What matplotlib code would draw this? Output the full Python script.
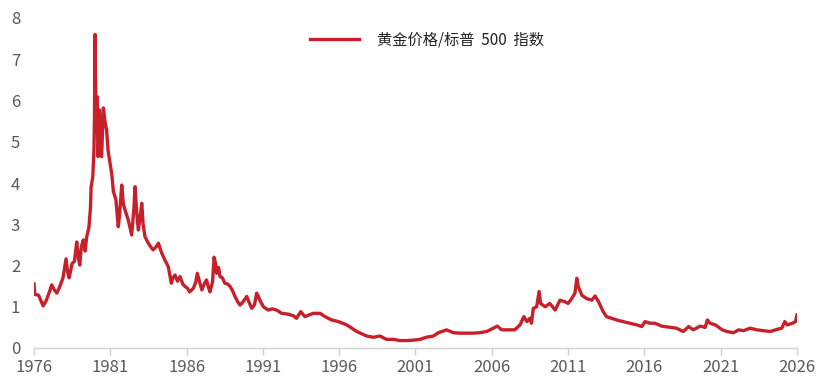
import matplotlib
matplotlib.use("Agg")
import matplotlib.pyplot as plt

years = [1976.0, 1976.05, 1976.3, 1976.45, 1976.6, 1976.8, 1977.0, 1977.16, 1977.35, 1977.5,
         1977.7, 1977.9, 1978.1, 1978.2, 1978.3, 1978.5, 1978.65, 1978.8, 1978.9, 1979.0,
         1979.1, 1979.23, 1979.35, 1979.45, 1979.6, 1979.7, 1979.74, 1979.85, 1979.93, 1979.96,
         1980.0, 1980.04, 1980.08, 1980.12, 1980.2, 1980.3, 1980.43, 1980.55, 1980.65, 1980.76,
         1980.85, 1980.98, 1981.1, 1981.2, 1981.37, 1981.52, 1981.6, 1981.75, 1981.85, 1981.96,
         1982.18, 1982.4, 1982.55, 1982.62, 1982.75, 1982.84, 1983.0, 1983.06, 1983.15, 1983.27,
         1983.49, 1983.65, 1983.8, 1984.0, 1984.15, 1984.37, 1984.58, 1984.8, 1985.0, 1985.1,
         1985.24, 1985.4, 1985.57, 1985.75, 1985.9, 1986.05, 1986.2, 1986.45, 1986.6, 1986.7,
         1986.85, 1987.0, 1987.15, 1987.3, 1987.45, 1987.53, 1987.7, 1987.8, 1987.9, 1987.97,
         1988.1, 1988.19, 1988.35, 1988.5, 1988.7, 1988.85, 1989.0, 1989.17, 1989.35, 1989.5,
         1989.7, 1989.94, 1990.1, 1990.27, 1990.45, 1990.59, 1990.7, 1990.8, 1991.03, 1991.35,
         1991.6, 1991.9, 1992.23, 1992.67, 1993.0, 1993.2, 1993.48, 1993.76, 1994.0, 1994.3,
         1994.75, 1995.07, 1995.5, 1995.95, 1996.5, 1997.15, 1997.8, 1998.24, 1998.67, 1999.1,
         1999.55, 1999.98, 2000.4, 2000.85, 2001.3, 2001.7, 2002.17, 2002.5, 2003.04, 2003.48,
         2003.92, 2004.35, 2004.8, 2005.2, 2005.67, 2006.1, 2006.36, 2006.65, 2007.1, 2007.5,
         2007.85, 2008.1, 2008.3, 2008.5, 2008.6, 2008.72, 2008.94, 2009.1, 2009.2, 2009.5,
         2009.8, 2010.15, 2010.47, 2010.8, 2011.0, 2011.24, 2011.45, 2011.57, 2011.67, 2011.9,
         2012.2, 2012.55, 2012.77, 2013.0, 2013.3, 2013.52, 2013.85, 2014.18, 2014.6, 2015.05,
         2015.5, 2015.83, 2016.04, 2016.37, 2016.7, 2017.13, 2017.7, 2018.1, 2018.55, 2018.9,
         2019.2, 2019.65, 2019.98, 2020.13, 2020.3, 2020.65, 2021.1, 2021.4, 2021.84, 2022.17,
         2022.5, 2022.93, 2023.37, 2023.8, 2024.25, 2024.68, 2025.0, 2025.2, 2025.35, 2025.7,
         2025.9, 2026.0]

ratio = [1.55, 1.30, 1.28, 1.15, 1.02, 1.15, 1.35, 1.53, 1.40, 1.33,
         1.50, 1.70, 2.16, 1.85, 1.70, 2.05, 2.10, 2.57, 2.20, 2.01,
         2.45, 2.62, 2.35, 2.69, 2.93, 3.40, 3.90, 4.14, 4.80, 5.50,
         7.60, 6.20, 5.40, 6.10, 4.64, 5.77, 4.64, 5.82, 5.49, 5.28,
         4.80, 4.48, 4.20, 3.80, 3.59, 2.94, 3.20, 3.95, 3.50, 3.35,
         3.10, 2.74, 3.40, 3.91, 3.20, 2.86, 3.30, 3.51, 3.00, 2.70,
         2.54, 2.45, 2.38, 2.45, 2.54, 2.30, 2.13, 1.97, 1.57, 1.70,
         1.77, 1.62, 1.73, 1.55, 1.49, 1.45, 1.36, 1.45, 1.60, 1.81,
         1.60, 1.41, 1.55, 1.65, 1.45, 1.36, 1.60, 2.20, 2.05, 1.81,
         1.95, 1.73, 1.70, 1.57, 1.55, 1.49, 1.40, 1.25, 1.12, 1.04,
         1.12, 1.25, 1.10, 0.96, 1.05, 1.33, 1.25, 1.16, 1.00, 0.92,
         0.95, 0.92, 0.84, 0.82, 0.78, 0.72, 0.88, 0.76, 0.80, 0.84,
         0.84, 0.76, 0.68, 0.64, 0.56, 0.40, 0.29, 0.26, 0.29, 0.21,
         0.21, 0.18, 0.18, 0.19, 0.21, 0.26, 0.29, 0.37, 0.44, 0.37,
         0.36, 0.36, 0.36, 0.37, 0.40, 0.48, 0.53, 0.44, 0.44, 0.44,
         0.56, 0.76, 0.64, 0.72, 0.60, 0.96, 1.00, 1.37, 1.08, 1.00,
         1.08, 0.92, 1.16, 1.12, 1.08, 1.20, 1.33, 1.69, 1.49, 1.28,
         1.20, 1.16, 1.26, 1.12, 0.88, 0.76, 0.72, 0.68, 0.64, 0.60,
         0.56, 0.52, 0.64, 0.60, 0.60, 0.53, 0.50, 0.48, 0.40, 0.52,
         0.44, 0.53, 0.50, 0.68, 0.60, 0.56, 0.44, 0.40, 0.37, 0.44,
         0.42, 0.48, 0.44, 0.42, 0.40, 0.45, 0.48, 0.64, 0.56, 0.60,
         0.64, 0.80]

xticks = [1976, 1981, 1986, 1991, 1996, 2001, 2006, 2011, 2016, 2021, 2026]
yticks = [0, 1, 2, 3, 4, 5, 6, 7, 8]
series_label = "黄金价格/标普  500  指数"

plt.rcParams['font.family'] = ['Noto Sans CJK SC', 'DejaVu Sans']

fig = plt.figure(figsize=(8.36, 3.82), dpi=100)
ax = fig.add_axes([34/836, 1 - 348/382, (797-34)/836, (348-18)/382])

ax.plot(years, ratio, color='#C8202A', linewidth=2.4, label=series_label,
        solid_joinstyle='round')

ax.set_xlim(1976, 2026)
ax.set_ylim(0, 8)
ax.set_xticks(xticks)
ax.set_xticklabels([str(t) for t in xticks], fontweight='light')
ax.set_yticks(yticks)
ax.set_yticklabels([str(t) for t in yticks], fontweight='light')

for s in ['top', 'right', 'left']:
    ax.spines[s].set_visible(False)
ax.spines['bottom'].set_color('#D0D0D0')
ax.spines['bottom'].set_linewidth(1.0)

ax.tick_params(axis='x', direction='out', length=5, width=1.0, color='#D0D0D0',
               labelsize=12, labelcolor='#595959', pad=3)
ax.tick_params(axis='y', length=0, labelsize=12, labelcolor='#595959', pad=10)

leg = ax.legend(loc='upper center', bbox_to_anchor=(0.515, 1.0), frameon=False,
                fontsize=11, handlelength=3.2, handletextpad=1.2)
for t in leg.get_texts():
    t.set_color('#222222')

fig.savefig('out.png', dpi=100, facecolor='white')
